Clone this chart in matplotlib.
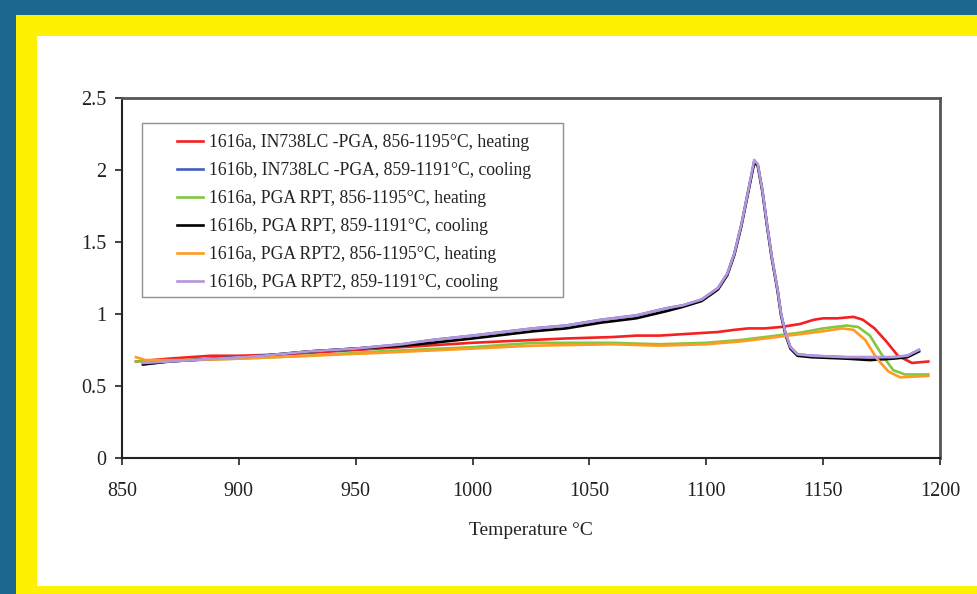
import matplotlib
matplotlib.use("Agg")
import matplotlib.pyplot as plt
from matplotlib.patches import Rectangle

# ---------------- data ----------------
labels = [
    "1616a, IN738LC -PGA, 856-1195\u00b0C, heating",
    "1616b, IN738LC -PGA, 859-1191\u00b0C, cooling",
    "1616a, PGA RPT, 856-1195\u00b0C, heating",
    "1616b, PGA RPT, 859-1191\u00b0C, cooling",
    "1616a, PGA RPT2, 856-1195\u00b0C, heating",
    "1616b, PGA RPT2, 859-1191\u00b0C, cooling",
]

t_red = [856, 870, 888, 900, 920, 940, 960, 980, 1000, 1026, 1040, 1060, 1070, 1080,
         1090, 1100, 1105, 1112, 1118, 1125, 1132, 1140, 1146, 1150, 1156, 1163, 1167,
         1172, 1177, 1182, 1188, 1195]
v_red = [0.67, 0.69, 0.71, 0.71, 0.72, 0.74, 0.76, 0.78, 0.80, 0.82, 0.83, 0.84, 0.85, 0.85,
         0.86, 0.87, 0.875, 0.89, 0.90, 0.90, 0.91, 0.93, 0.96, 0.97, 0.97, 0.98, 0.96,
         0.90, 0.81, 0.71, 0.66, 0.67]

t_blue = [859, 870, 890, 910, 930, 950, 970, 983, 1000, 1026, 1040, 1055, 1070, 1083, 1090,
          1098, 1105, 1109, 1112, 1115, 1118, 1120.5, 1122, 1124, 1126, 1128, 1130.5, 1132,
          1134, 1136, 1139, 1145, 1160, 1170, 1180, 1186, 1191]
v_blue = [0.65, 0.67, 0.69, 0.71, 0.74, 0.76, 0.79, 0.82, 0.85, 0.90, 0.92, 0.96, 0.99, 1.04, 1.06,
          1.10, 1.18, 1.28, 1.42, 1.62, 1.86, 2.06, 2.04, 1.86, 1.62, 1.40, 1.17, 1.00,
          0.86, 0.77, 0.72, 0.71, 0.70, 0.70, 0.70, 0.71, 0.75]

t_green = [856, 880, 900, 930, 960, 1000, 1026, 1060, 1080, 1100, 1115, 1130, 1140, 1150,
           1160, 1165, 1170, 1175, 1180, 1185, 1195]
v_green = [0.67, 0.68, 0.69, 0.71, 0.74, 0.77, 0.80, 0.80, 0.79, 0.80, 0.82, 0.85, 0.87, 0.90,
           0.92, 0.91, 0.85, 0.72, 0.61, 0.58, 0.58]

t_black = [859, 870, 890, 910, 930, 950, 970, 983, 1000, 1026, 1040, 1055, 1070, 1083, 1090,
           1098, 1105, 1109, 1112, 1115, 1118, 1120.5, 1122, 1124, 1126, 1128, 1130.5, 1132,
           1134, 1136, 1139, 1145, 1160, 1170, 1180, 1186, 1191]
v_black = [0.65, 0.67, 0.69, 0.71, 0.74, 0.76, 0.78, 0.80, 0.83, 0.88, 0.90, 0.94, 0.97, 1.02, 1.05,
           1.09, 1.17, 1.27, 1.41, 1.61, 1.85, 2.05, 2.03, 1.85, 1.61, 1.39, 1.16, 0.99,
           0.85, 0.76, 0.71, 0.70, 0.69, 0.68, 0.69, 0.70, 0.74]

t_orange = [856, 860, 880, 900, 930, 960, 1000, 1026, 1060, 1080, 1100, 1115, 1130, 1140,
            1150, 1158, 1163, 1168, 1173, 1178, 1183, 1195]
v_orange = [0.70, 0.68, 0.68, 0.69, 0.71, 0.73, 0.76, 0.78, 0.79, 0.78, 0.79, 0.81, 0.84, 0.86,
            0.88, 0.90, 0.89, 0.82, 0.69, 0.60, 0.56, 0.57]

t_purple = [859, 870, 890, 910, 930, 950, 970, 983, 1000, 1026, 1040, 1055, 1070, 1083, 1090,
            1098, 1105, 1109, 1112, 1115, 1118, 1120.5, 1122, 1124, 1126, 1128, 1130.5, 1132,
            1134, 1136, 1139, 1145, 1160, 1170, 1180, 1186, 1191]
v_purple = [0.66, 0.67, 0.69, 0.71, 0.74, 0.76, 0.79, 0.82, 0.85, 0.90, 0.92, 0.96, 0.99, 1.04, 1.06,
            1.10, 1.18, 1.28, 1.42, 1.62, 1.86, 2.07, 2.04, 1.86, 1.62, 1.40, 1.17, 1.00,
            0.86, 0.77, 0.72, 0.71, 0.70, 0.70, 0.70, 0.71, 0.75]

series = [
    (t_red, v_red, "#f52020"),
    (t_blue, v_blue, "#4060c0"),
    (t_green, v_green, "#80c840"),
    (t_black, v_black, "#000000"),
    (t_orange, v_orange, "#ff9a22"),
    (t_purple, v_purple, "#b496dc"),
]

x_ticks = [850, 900, 950, 1000, 1050, 1100, 1150, 1200]
y_ticks = [0, 0.5, 1, 1.5, 2, 2.5]
y_tick_labels = ["0", "0.5", "1", "1.5", "2", "2.5"]
x_label = "Temperature \u00b0C"

# ---------------- figure ----------------
W, H = 978, 594
fig = plt.figure(figsize=(W / 100, H / 100), dpi=100)
fig.patch.set_facecolor("#1c6890")
fig.patches.append(Rectangle((16 / W, 0), 1 - 16 / W, 1 - 15 / H, transform=fig.transFigure,
                             facecolor="#fff200", edgecolor="none", zorder=-20))
fig.patches.append(Rectangle((37 / W, 8 / H), 1 - 37 / W, 1 - 36 / H - 8 / H, transform=fig.transFigure,
                             facecolor="white", edgecolor="none", zorder=-19))

ax = fig.add_axes([122 / W, 1 - 458 / H, (940 - 122) / W, (458 - 98) / H])
ax.set_zorder(1)
ax.set_facecolor("white")

serif = ["Liberation Serif", "DejaVu Serif"]

handles = []
for (t, v, c), lab in zip(series, labels):
    h, = ax.plot(t, v, color=c, lw=1.9, label=lab, solid_joinstyle="round")
    handles.append(h)

ax.set_xlim(850, 1200)
ax.set_ylim(0, 2.5)
ax.set_xticks(x_ticks)
ax.set_yticks(y_ticks)
ax.set_yticklabels(y_tick_labels)
for lab in ax.get_xticklabels() + ax.get_yticklabels():
    lab.set_family(serif)
    lab.set_fontsize(14.5)
    lab.set_color("#222222")
ax.tick_params(axis="x", direction="out", length=5, width=1.2, pad=12.5, colors="#222222",
               top=False)
ax.tick_params(axis="y", direction="out", length=5, width=1.2, pad=6, colors="#222222",
               right=False)
ax.set_xlabel(x_label, family=serif, fontsize=14, color="#222222", labelpad=15)

for s in ["left", "bottom"]:
    ax.spines[s].set_color("#222222")
    ax.spines[s].set_linewidth(1.5)
for s in ["top", "right"]:
    ax.spines[s].set_color("#555555")
    ax.spines[s].set_linewidth(2.0)

# legend frame (drawn separately) and frameless legend inside
x0, x1 = (142 - 122) / 818, (563 - 122) / 818
y1, y0 = (458 - 123) / 360, (458 - 297) / 360
ax.add_patch(Rectangle((x0, y0), x1 - x0, y1 - y0, transform=ax.transAxes,
                       facecolor="white", edgecolor="#909090", lw=1.0, zorder=5))
leg = ax.legend(handles=handles, loc="upper left", bbox_to_anchor=((177 - 122) / 818, (458 - 134) / 360),
                frameon=False, prop={"family": serif, "size": 12.7},
                handlelength=1.5, handletextpad=0.3, labelspacing=0.625, borderpad=0,
                borderaxespad=0)
leg.set_zorder(6)
for txt in leg.get_texts():
    txt.set_color("#222222")

fig.savefig("out.png", dpi=100, facecolor=fig.get_facecolor())
